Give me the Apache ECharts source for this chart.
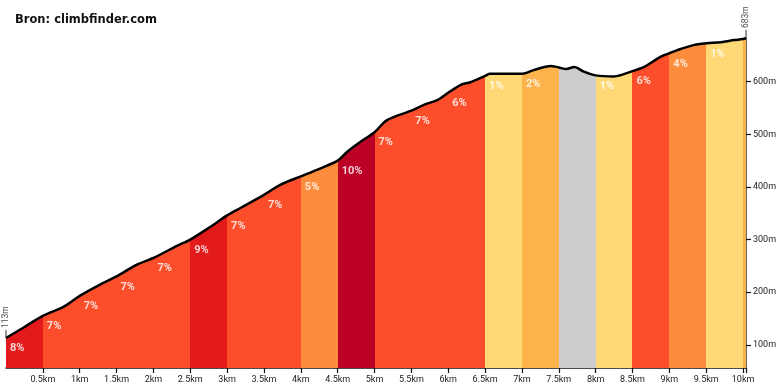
<!DOCTYPE html>
<html>
<head>
<meta charset="utf-8">
<script src="https://cdn.jsdelivr.net/npm/echarts@6/dist/echarts.min.js"></script>
<style>html,body{margin:0;padding:0;background:#fff}#c{width:780px;height:390px}</style>
</head>
<body>
<div id="c"></div>
<script>
// Profile (distance in km, elevation in m)
const distKm = [0, 0.25, 0.5, 0.78, 1.0, 1.27, 1.5, 1.77, 2.0, 2.32, 2.5, 2.77, 3.0, 3.18, 3.5, 3.72, 4.0, 4.26, 4.5, 4.63, 4.81, 5.0, 5.17, 5.5, 5.67, 5.85, 6.0, 6.17, 6.3, 6.5, 6.57, 6.74, 7.0, 7.16, 7.39, 7.5, 7.6, 7.71, 7.84, 8.0, 8.25, 8.5, 8.66, 8.88, 9.0, 9.11, 9.34, 9.5, 9.7, 9.88, 10.0, 10.04];
const elevM  = [113, 134, 155, 172, 193, 214, 230, 252, 265, 288, 300, 324, 346, 360, 385, 404, 420, 435, 450, 467, 486, 504, 527, 545, 556, 565, 579, 594, 599, 611, 615, 615, 615, 622, 630, 627, 624, 628, 619, 612, 610, 620, 628, 647, 654, 660, 670, 673, 675, 679, 681, 683];

// Segments (start km, end km, grade %)
const segStartKm = [0, 0.5, 1.0, 1.5, 2.0, 2.5, 3.0, 3.5, 4.0, 4.5, 5.0, 5.5, 6.0, 6.5, 7.0, 7.5, 8.0, 8.5, 9.0, 9.5, 10.0];
const segEndKm   = [0.5, 1.0, 1.5, 2.0, 2.5, 3.0, 3.5, 4.0, 4.5, 5.0, 5.5, 6.0, 6.5, 7.0, 7.5, 8.0, 8.5, 9.0, 9.5, 10.0, 10.04];
const segGrade   = [8, 7, 7, 7, 7, 9, 7, 7, 5, 10, 7, 7, 6, 1, 2, -1, 1, 6, 4, 1, 3];

// Axis ticks
const xTickKm = [0.5, 1, 1.5, 2, 2.5, 3, 3.5, 4, 4.5, 5, 5.5, 6, 6.5, 7, 7.5, 8, 8.5, 9, 9.5, 10];
const yTickM = [100, 200, 300, 400, 500, 600];

function gradeColor(g) {
  if (g < 0) return '#cccccc';
  if (g < 2) return '#fed976';
  if (g < 4) return '#feb24c';
  if (g < 6) return '#fd8d3c';
  if (g < 8) return '#fc4e2a';
  if (g < 10) return '#e31a1c';
  return '#bd0026';
}

const profile = distKm.map((d, i) => [d, elevM[i]]);
const startElev = elevM[0];
const endElev = elevM[elevM.length - 1];
const maxKm = distKm[distKm.length - 1];
const minE = startElev - (endElev - startElev) * 0.1;

const pieces = segStartKm.map((s, i) => ({ gte: s, lt: segEndKm[i] + (i === segStartKm.length - 1 ? 1 : 0), color: gradeColor(segGrade[i]) }));

const gradeLabels = [];
segStartKm.forEach((s, i) => {
  if (segGrade[i] > 0 && segEndKm[i] - s >= 0.49) {
    const idx = distKm.indexOf(s);
    gradeLabels.push([s, elevM[idx], segGrade[i]]);
  }
});

const chart = echarts.init(document.getElementById('c'), null, { renderer: 'canvas' });
chart.setOption({
  animation: false,
  backgroundColor: '#fff',
  title: {
    text: 'Bron: climbfinder.com',
    left: 10, top: 9,
    textStyle: { fontFamily: 'DejaVu Sans', fontSize: 11.5, fontWeight: 'bold', color: '#111' }
  },
  grid: { left: 6, right: 34, top: 38, bottom: 22 },
  xAxis: {
    type: 'value', min: 0, max: maxKm,
    splitLine: { show: false },
    axisLine: { show: true, onZero: false, lineStyle: { color: '#111', width: 1.5 } },
    axisTick: { show: true, length: 5, lineStyle: { color: '#111', width: 1.2 }, customValues: xTickKm.concat([maxKm]) },
    axisLabel: { customValues: xTickKm, formatter: v => v + 'km', fontFamily: 'Roboto', fontSize: 9, color: '#222', margin: 7 }
  },
  yAxis: {
    type: 'value', position: 'right', min: minE, max: endElev,
    splitLine: { show: false },
    axisLine: { show: true, onZero: false, lineStyle: { color: '#333', width: 1.5 } },
    axisTick: { show: true, inside: false, length: 5, lineStyle: { color: '#111', width: 1.2 }, customValues: yTickM },
    axisLabel: { customValues: yTickM, formatter: v => v + 'm', fontFamily: 'Roboto', fontSize: 9, color: '#222', margin: 7 }
  },
  visualMap: {
    type: 'piecewise', show: false, dimension: 0, seriesIndex: 0,
    pieces: pieces
  },
  series: [
    {
      type: 'line', data: profile, showSymbol: false, smooth: 0.3,
      lineStyle: { color: '#000', width: 2.5 },
      areaStyle: { opacity: 1, origin: 'start' },
      z: 2
    },
    {
      type: 'scatter', data: gradeLabels, symbolSize: 0.01,
      itemStyle: { color: 'rgba(0,0,0,0)' },
      label: {
        show: true, position: [4, 5], align: 'left', verticalAlign: 'top',
        formatter: p => p.value[2] + '%',
        color: '#fff', fontFamily: 'Roboto', fontWeight: 'bold', fontSize: 11
      },
      z: 5
    },
    {
      type: 'scatter', data: [[distKm[0], startElev], [maxKm, endElev]],
      symbol: 'rect', symbolSize: [1.2, 8], symbolOffset: [0, '-50%'],
      itemStyle: { color: '#222' },
      label: {
        show: true, position: 'top', distance: 2, rotate: 90, align: 'left', verticalAlign: 'middle',
        formatter: p => p.value[1] + 'm',
        color: '#222', fontFamily: 'Roboto', fontSize: 8.5
      },
      z: 6
    }
  ]
});
</script>
</body>
</html>
